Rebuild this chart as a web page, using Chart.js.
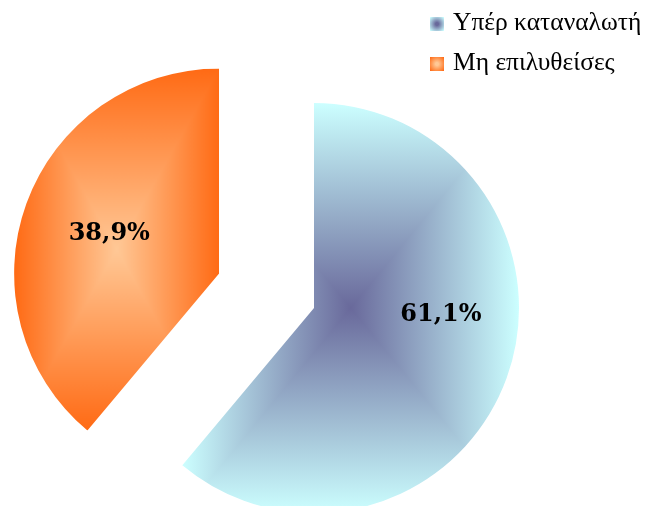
<!DOCTYPE html>
<html>
<head>
<meta charset="utf-8">
<script src="https://cdn.jsdelivr.net/npm/chart.js@4.4.1/dist/chart.umd.min.js"></script>
<style>
body { margin: 0; background: #fff; }
#wrap { position: relative; width: 646px; height: 506px; overflow: hidden; }
#legend { position: absolute; left: 430px; top: 2px; font-family: "Liberation Serif", serif; font-size: 25.5px; color: #000; }
#legend .row { height: 40px; line-height: 40px; white-space: nowrap; }
#legend .box { display: inline-block; width: 14px; height: 14px; margin-right: 9px; vertical-align: -1px; }
</style>
</head>
<body>
<div id="wrap">
  <canvas id="pie_chart" width="646" height="506"></canvas>
  <div id="legend"></div>
</div>
<script>
// Данные
var labels = ['Υπέρ καταναλωτή', 'Μη επιλυθείσες'];
var values = [61.1, 38.9];

// Цвета градиентов (центр / край)
var inner_colors = ['#69699b', '#ffc896'];
var outer_colors = ['#ccffff', '#ff6a14'];

function pct(v) {
    return v.toFixed(1).replace('.', ',') + '%';
}

/* --------------------- Легенда --------------------- */

var legend = document.getElementById('legend');
labels.forEach(function (name, i) {
    var row = document.createElement('div');
    row.className = 'row';
    var box = document.createElement('span');
    box.className = 'box';
    box.style.background = 'radial-gradient(' + inner_colors[i] + ' 15%, ' + outer_colors[i] + ' 95%)';
    row.appendChild(box);
    row.appendChild(document.createTextNode(name));
    legend.appendChild(row);
});

/* --------------------- Градиент "от центра" как в Excel --------------------- */

function rect_gradient(ctx, x0, y0, x1, y1, inner, outer) {
    var cx = (x0 + x1) / 2, cy = (y0 + y1) / 2;
    var g = ctx.createLinearGradient(cx, y0, cx, y1);
    g.addColorStop(0, outer);
    g.addColorStop(0.5, inner);
    g.addColorStop(1, outer);
    ctx.fillStyle = g;
    ctx.fillRect(x0, y0, x1 - x0, y1 - y0);

    var gl = ctx.createLinearGradient(x0, cy, cx, cy);
    gl.addColorStop(0, outer);
    gl.addColorStop(1, inner);
    ctx.fillStyle = gl;
    ctx.beginPath();
    ctx.moveTo(x0, y0); ctx.lineTo(cx, cy); ctx.lineTo(x0, y1);
    ctx.closePath();
    ctx.fill();

    var gr = ctx.createLinearGradient(x1, cy, cx, cy);
    gr.addColorStop(0, outer);
    gr.addColorStop(1, inner);
    ctx.fillStyle = gr;
    ctx.beginPath();
    ctx.moveTo(x1, y0); ctx.lineTo(cx, cy); ctx.lineTo(x1, y1);
    ctx.closePath();
    ctx.fill();
}

function sector_box(x, y, r, a0, a1) {
    var pts = [[x, y], [x + r * Math.cos(a0), y + r * Math.sin(a0)], [x + r * Math.cos(a1), y + r * Math.sin(a1)]];
    for (var k = -4; k <= 8; k++) {
        var a = k * Math.PI / 2;
        if (a > a0 && a < a1) pts.push([x + r * Math.cos(a), y + r * Math.sin(a)]);
    }
    var xs = pts.map(function (p) { return p[0]; });
    var ys = pts.map(function (p) { return p[1]; });
    return [Math.min.apply(null, xs), Math.min.apply(null, ys), Math.max.apply(null, xs), Math.max.apply(null, ys)];
}

var fill_plugin = {
    id: 'rect_fill',
    afterDatasetsUpdate: function (chart) {
        var meta = chart.getDatasetMeta(0);
        var R = meta.controller.outerRadius;
        meta.data.forEach(function (arc, i) {
            var off = (arc.options.offset || 0) / 4;
            var fix = 1 - Math.sin(Math.min(Math.PI, arc.circumference));
            var ro = off * fix;
            // вынесенный сектор: тот же радиус и прямые края
            arc.outerRadius = R - ro;
            var ao = ro / (2 * Math.PI * R);
            arc.startAngle -= ao;
            arc.endAngle += ao;
            var b = sector_box(arc.x, arc.y, R, arc.startAngle + ao, arc.endAngle - ao);
            var c = document.createElement('canvas');
            c.width = chart.width;
            c.height = chart.height;
            rect_gradient(c.getContext('2d'), b[0], b[1], b[2], b[3], inner_colors[i], outer_colors[i]);
            var pat = chart.ctx.createPattern(c, 'no-repeat');
            arc.options = Object.assign({}, arc.options, { backgroundColor: pat });
        });
    }
};

/* --------------------- Подписи процентов --------------------- */

var label_plugin = {
    id: 'pct_labels',
    afterDatasetsDraw: function (chart, args, opts) {
        var meta = chart.getDatasetMeta(0);
        var R = meta.controller.outerRadius;
        var ctx = chart.ctx;
        ctx.save();
        ctx.font = 'bold 24px "DejaVu Serif", serif';
        ctx.fillStyle = '#000';
        ctx.textAlign = 'center';
        ctx.textBaseline = 'middle';
        meta.data.forEach(function (arc, i) {
            var mid = (arc.startAngle + arc.endAngle) / 2;
            var off = (arc.options.offset || 0) / 4;
            var ox = arc.x + Math.cos(mid) * off;
            var oy = arc.y + Math.sin(mid) * off;
            var a = mid + opts.shift[i] * Math.PI / 180;
            var d = R * opts.dist[i];
            ctx.fillText(pct(values[i]), ox + Math.cos(a) * d, oy + Math.sin(a) * d);
        });
        ctx.restore();
    }
};

/* --------------------- Круговая диаграмма --------------------- */

var ctx = document.getElementById('pie_chart').getContext('2d');
var chart = new Chart(ctx, {
    type: 'pie',
    data: {
        labels: labels,
        datasets: [{
            data: values,
            backgroundColor: outer_colors,
            borderWidth: 0,
            radius: 205,
            cutout: '0%', // иначе при большом offset получается NaN
            offset: [0, 404],
            hoverOffset: 0
        }]
    },
    options: {
        responsive: false,
        animation: false,
        layout: { padding: { left: 0, right: 18, top: 110, bottom: 0 } },
        plugins: {
            legend: { display: false },
            tooltip: { enabled: false },
            pct_labels: { dist: [0.62, 0.57], shift: [-17, 0] }
        }
    },
    plugins: [fill_plugin, label_plugin]
});
</script>
</body>
</html>
